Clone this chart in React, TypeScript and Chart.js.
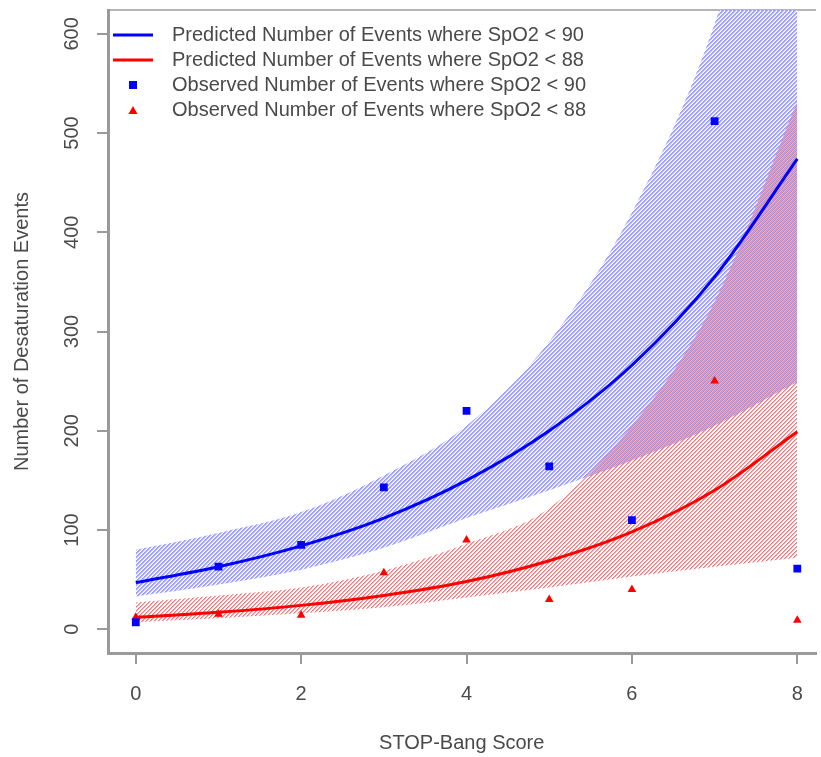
import React, { useEffect, useRef } from 'react';
import { Chart, registerables } from 'chart.js';
Chart.register(...registerables);

const scores = [0, 1, 2, 3, 4, 5, 6, 7, 8];
const predicted90 = [47, 63, 84, 112, 150, 200, 266, 355, 474];
const predicted88 = [12, 17, 24, 34, 48, 69, 98, 140, 199];
const upper90 = [80, 97, 118, 155, 205, 290, 420, 610, 900];
const lower90 = [33, 45, 60, 82, 112, 140, 170, 205, 249];
const upper88 = [27, 34, 42, 59, 86, 122, 205, 330, 532];
const lower88 = [7, 11, 16, 22, 32, 42, 53, 63, 72];
const observed90 = [7, 63, 85, 143, 220, 164, 110, 512, 61];
const observed88 = [12, 15, 14, 57, 90, 30, 40, 250, 9];
const legendLabels = [
  'Predicted Number of Events where SpO2 < 90',
  'Predicted Number of Events where SpO2 < 88',
  'Observed Number of Events where SpO2 < 90',
  'Observed Number of Events where SpO2 < 88',
];
const xTicks = [0, 2, 4, 6, 8];
const yTicks = [0, 100, 200, 300, 400, 500, 600];
const xTitle = 'STOP-Bang Score';
const yTitle = 'Number of Desaturation Events';

const FONT = "'Liberation Sans', Arial, sans-serif";
const TEXT = '#4a4a4a';
const AXIS = '#9a9a9a';

function pts(vals: number[]) {
  return scores.map((s, i) => ({ x: s, y: vals[i] }));
}

// opaque-pixel diagonal hatch with transparent gaps; colours[k] for k = (x + y + shift) % 4
function hatch(colours: (string | null)[], shift: number) {
  const c = document.createElement('canvas');
  c.width = 4;
  c.height = 4;
  const ctx = c.getContext('2d')!;
  for (let x = 0; x < 4; x++) {
    for (let y = 0; y < 4; y++) {
      const col = colours[(x + y + shift) % 4];
      if (col) {
        ctx.fillStyle = col;
        ctx.fillRect(x, y, 1, 1);
      }
    }
  }
  return ctx.createPattern(c, 'repeat')!;
}

function marker(kind: 'line' | 'rect' | 'tri', color: string) {
  const c = document.createElement('canvas');
  c.width = 49;
  c.height = 10;
  const ctx = c.getContext('2d')!;
  ctx.fillStyle = color;
  ctx.strokeStyle = color;
  if (kind === 'line') {
    ctx.lineWidth = 3;
    ctx.beginPath();
    ctx.moveTo(0, 5);
    ctx.lineTo(40, 5);
    ctx.stroke();
  } else if (kind === 'rect') {
    ctx.fillRect(16, 1, 8, 8);
  } else {
    ctx.beginPath();
    ctx.moveTo(20, 1);
    ctx.lineTo(24.5, 9);
    ctx.lineTo(15.5, 9);
    ctx.closePath();
    ctx.fill();
  }
  return c;
}

export default function App() {
  const ref = useRef<HTMLCanvasElement | null>(null);
  useEffect(() => {
    const canvas = ref.current!;
    const blueHatch = hatch(['rgb(155,155,255)', 'rgb(170,170,255)', 'rgb(218,218,255)', null], 0);
    const redHatch = hatch(['rgb(240,120,128)', 'rgb(255,172,172)', null, null], 2);
    const markers = [
      marker('line', '#0000ff'),
      marker('line', '#ff0000'),
      marker('rect', '#0000ff'),
      marker('tri', '#ff0000'),
    ];
    const legendColors = ['#0000ff', '#ff0000', '#0000ff', '#ff0000'];
    const chart = new Chart(canvas, {
      type: 'scatter',
      data: {
        datasets: [
          { label: legendLabels[2], data: pts(observed90), showLine: false, pointStyle: 'rect', pointRadius: 5.5, backgroundColor: '#0000ff', borderColor: '#0000ff', borderWidth: 0, order: 0 } as any,
          { label: legendLabels[3], data: pts(observed88), showLine: false, pointStyle: 'triangle', pointRadius: 5, backgroundColor: '#ff0000', borderColor: '#ff0000', borderWidth: 0, order: 0 } as any,
          { label: legendLabels[0], data: pts(predicted90), showLine: true, borderColor: '#0000ff', borderWidth: 3, pointRadius: 0, cubicInterpolationMode: 'monotone', fill: false, order: 1 } as any,
          { label: legendLabels[1], data: pts(predicted88), showLine: true, borderColor: '#ff0000', borderWidth: 3, pointRadius: 0, cubicInterpolationMode: 'monotone', fill: false, order: 1 } as any,
          { label: 'upper88', data: pts(upper88), showLine: true, borderWidth: 0, borderColor: 'rgba(0,0,0,0)', pointRadius: 0, cubicInterpolationMode: 'monotone', fill: '+1', backgroundColor: redHatch, order: 2 } as any,
          { label: 'lower88', data: pts(lower88), showLine: true, borderWidth: 0, borderColor: 'rgba(0,0,0,0)', pointRadius: 0, cubicInterpolationMode: 'monotone', fill: false, order: 2 } as any,
          { label: 'upper90', data: pts(upper90), showLine: true, borderWidth: 0, borderColor: 'rgba(0,0,0,0)', pointRadius: 0, cubicInterpolationMode: 'monotone', fill: '+1', backgroundColor: blueHatch, order: 3 } as any,
          { label: 'lower90', data: pts(lower90), showLine: true, borderWidth: 0, borderColor: 'rgba(0,0,0,0)', pointRadius: 0, cubicInterpolationMode: 'monotone', fill: false, order: 3 } as any,
        ],
      },
      options: {
        animation: false,
        responsive: false,
        maintainAspectRatio: false,
        layout: { padding: 0 },
        plugins: {
          tooltip: { enabled: false },
          legend: {
            position: 'chartArea' as any,
            align: 'start',
            title: { display: true, text: '', padding: { top: 18, bottom: 0 }, font: { size: 2, lineHeight: 1 } },
            labels: {
              usePointStyle: true,
              pointStyleWidth: 49,
              padding: 5,
              color: TEXT,
              font: { size: 20, family: FONT },
              generateLabels: () =>
                legendLabels.map((t, i) => ({
                  text: t,
                  fillStyle: legendColors[i],
                  strokeStyle: legendColors[i],
                  lineWidth: 0,
                  pointStyle: markers[i] as any,
                  hidden: false,
                  fontColor: TEXT,
                  datasetIndex: [2, 3, 0, 1][i],
                })) as any,
            },
          },
        },
        scales: {
          x: {
            type: 'linear',
            position: 'bottom',
            min: -0.336,
            max: 8.22,
            afterBuildTicks: (s: any) => { s.ticks = xTicks.map((v) => ({ value: v })); },
            afterFit: (s: any) => { s.height = 104; s.paddingLeft = 0; s.paddingRight = 0; },
            border: { display: true, color: AXIS, width: 3 },
            grid: { drawOnChartArea: false, drawTicks: true, tickLength: 11, color: AXIS, lineWidth: 2 },
            ticks: { color: TEXT, font: { size: 20, family: FONT }, padding: 18, maxRotation: 0, autoSkip: false },
            title: { display: true, text: xTitle, color: TEXT, font: { size: 20, family: FONT }, padding: { top: 0, bottom: 2 } },
          },
          xTop: {
            type: 'linear',
            position: 'top',
            min: -0.336,
            max: 8.22,
            afterFit: (s: any) => { s.height = 10; s.paddingLeft = 0; s.paddingRight = 0; },
            border: { display: true, color: '#b5b5b5', width: 2 },
            grid: { display: false, drawTicks: false },
            ticks: { display: false },
          },
          y: {
            type: 'linear',
            min: -24,
            max: 624,
            afterBuildTicks: (s: any) => { s.ticks = yTicks.map((v) => ({ value: v })); },
            afterFit: (s: any) => { s.width = 108; s.paddingTop = 0; s.paddingBottom = 0; },
            border: { display: true, color: AXIS, width: 3 },
            grid: { drawOnChartArea: false, drawTicks: true, tickLength: 11, color: AXIS, lineWidth: 2 },
            ticks: { color: TEXT, font: { size: 20, family: FONT }, padding: 8, minRotation: 90, maxRotation: 90, crossAlign: 'center', autoSkip: false },
            title: { display: true, text: yTitle, color: TEXT, font: { size: 20, family: FONT }, padding: { top: 10, bottom: 0 } },
          },
        },
      } as any,
    });
    return () => chart.destroy();
  }, []);
  return (
    <div style={{ position: 'fixed', left: 0, top: 0, width: 821, height: 757, background: '#fff' }}>
      <canvas ref={ref} width={821} height={757} style={{ width: 821, height: 757, display: 'block' }} />
    </div>
  );
}
